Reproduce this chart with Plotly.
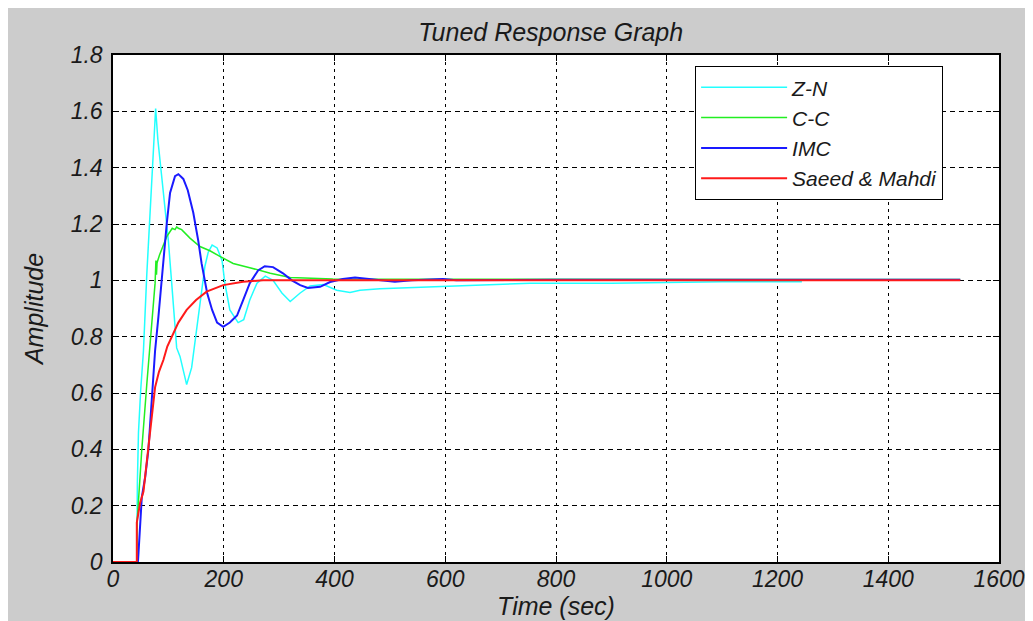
import plotly.graph_objects as go

# ---- data ----
zn_t = [0, 43, 44, 46, 50, 55, 61, 67, 72, 77, 81, 85, 91, 100, 106, 115, 121, 133, 142, 154,
        166, 172, 179, 188, 197, 202, 211, 226, 236, 247, 260, 275, 289, 305, 320, 338, 356,
        380, 404, 428, 446, 482, 550, 626, 753, 900, 1100, 1244]
zn_y = [0, 0, 0.28, 0.46, 0.61, 0.75, 1.02, 1.24, 1.45, 1.61, 1.50, 1.42, 1.30, 1.14, 0.99,
        0.76, 0.73, 0.63, 0.69, 0.87, 1.05, 1.10, 1.125, 1.115, 1.07, 0.99, 0.895, 0.85, 0.86,
        0.93, 0.99, 1.015, 1.0, 0.955, 0.925, 0.955, 0.98, 0.985, 0.965, 0.957, 0.965, 0.97,
        0.975, 0.98, 0.99, 0.99, 0.995, 0.995]

cc_t = [0, 43, 43.5, 52, 61, 70, 76, 77.5, 78.5, 79.5, 80, 84, 88, 97, 107, 112, 115, 118,
        124, 139, 157, 175, 193, 217, 247, 284, 320, 356, 397, 600, 1000, 1530]
cc_y = [0, 0, 0.14, 0.40, 0.63, 0.83, 0.99, 1.07, 1.02, 1.06, 1.065, 1.09, 1.11, 1.155, 1.185,
        1.18, 1.19, 1.185, 1.18, 1.15, 1.12, 1.105, 1.085, 1.06, 1.045, 1.025, 1.01, 1.008,
        1.005, 1.004, 1.003, 1.003]

imc_t = [0, 45, 46, 52, 58, 64, 70, 76, 82, 88, 91, 97, 103, 112, 118, 127, 135, 145, 154,
         160, 170, 179, 188, 199, 211, 224, 235, 247, 262, 274, 289, 307, 323, 338, 352, 374,
         392, 415, 437, 460, 490, 509, 540, 596, 620, 800, 1530]
imc_y = [0, 0, 0.03, 0.23, 0.30, 0.40, 0.575, 0.75, 0.87, 1.01, 1.06, 1.20, 1.31, 1.37, 1.377,
         1.36, 1.32, 1.24, 1.14, 1.06, 0.955, 0.895, 0.85, 0.835, 0.85, 0.875, 0.93, 0.99,
         1.035, 1.05, 1.047, 1.025, 1.0, 0.983, 0.973, 0.977, 0.994, 1.005, 1.01, 1.005, 1.0,
         0.995, 1.0, 1.005, 1.0, 1.002, 1.002]

sm_t = [0, 43, 43, 49, 55, 64, 70, 76, 83, 91, 98, 106, 118, 133, 150, 169, 199, 235, 271,
        350, 500, 800, 1200, 1530]
sm_y = [0, 0, 0.14, 0.21, 0.25, 0.40, 0.52, 0.62, 0.675, 0.717, 0.765, 0.80, 0.85, 0.895,
        0.93, 0.96, 0.983, 0.995, 1.0, 1.0, 1.0, 1.0, 1.0, 1.0]

names = ["Z-N", "C-C", "IMC", "Saeed & Mahdi"]
colors = ["#22ffff", "#22ee22", "#1a1aff", "#ff1a1a"]
x_ticks = [0, 200, 400, 600, 800, 1000, 1200, 1400, 1600]
y_ticks = [0, 0.2, 0.4, 0.6, 0.8, 1.0, 1.2, 1.4, 1.6, 1.8]
y_labels = ["0", "0.2", "0.4", "0.6", "0.8", "1", "1.2", "1.4", "1.6", "1.8"]

FONT = "Liberation Sans, Arial, sans-serif"
TXT = "#1a1a1a"

fig = go.Figure()
for t, y, n, c, w in [(zn_t, zn_y, names[0], colors[0], 1.5),
                      (cc_t, cc_y, names[1], colors[1], 1.5),
                      (imc_t, imc_y, names[2], colors[2], 2),
                      (sm_t, sm_y, names[3], colors[3], 2)]:
    fig.add_trace(go.Scatter(x=t, y=y, mode="lines", name=n,
                             line=dict(color=c, width=w)))

axis_common = dict(showline=True, linecolor="black", linewidth=1.5, mirror="ticks",
                   ticks="inside", ticklen=6, tickcolor="black", tickwidth=1,
                   showgrid=True, gridcolor="black", gridwidth=1, zeroline=False,
                   tickfont=dict(family=FONT, size=23, color=TXT, style="italic"))

fig.update_xaxes(range=[0, 1600], tickvals=x_ticks, griddash="3px,4px",
                 ticklabelstandoff=-4,
                 title=dict(text="Time (sec)", standoff=0,
                            font=dict(family=FONT, size=25, color=TXT, style="italic")),
                 **axis_common)
fig.update_yaxes(range=[0, 1.8], tickvals=y_ticks, ticktext=y_labels, griddash="5px,4px",
                 ticklabelstandoff=4,
                 title=dict(text="Amplitude", standoff=20,
                            font=dict(family=FONT, size=25, color=TXT, style="italic")),
                 **axis_common)

fig.update_layout(
    width=1033, height=621,
    margin=dict(l=105, r=42, t=47, b=67),
    paper_bgcolor="#cccccc", plot_bgcolor="white",
    title=dict(text="Tuned Response Graph", x=0.494, xref="paper", xanchor="center",
               y=1 - 24 / 621, yanchor="middle",
               font=dict(family=FONT, size=25, color=TXT, style="italic")),
    legend=dict(x=0.657, y=0.978, xanchor="left", yanchor="top", bgcolor="white",
                bordercolor="black", borderwidth=1, itemwidth=86,
                font=dict(family=FONT, size=21, color=TXT, style="italic")),
    showlegend=True,
)

fig.write_html("out.html")
